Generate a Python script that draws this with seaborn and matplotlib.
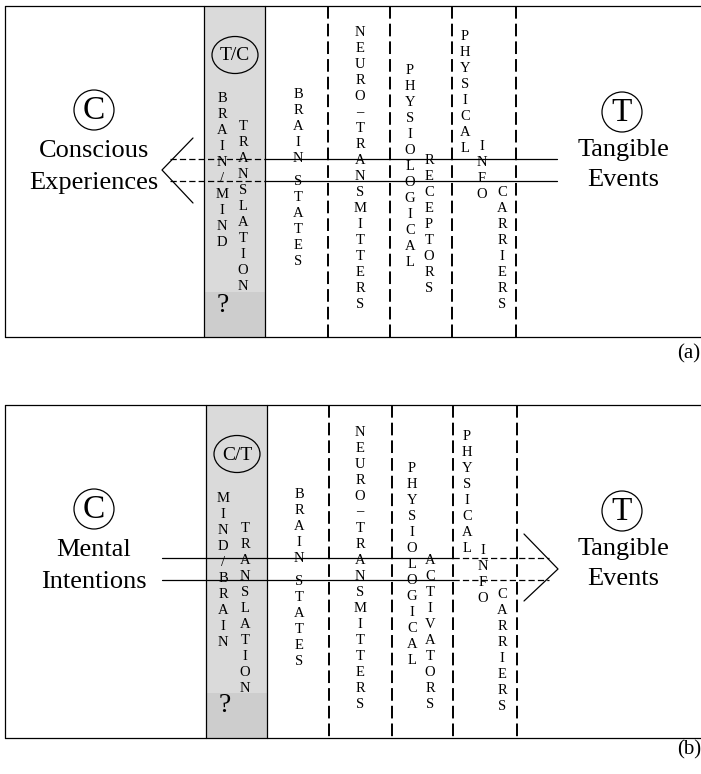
import matplotlib
matplotlib.use("Agg")
import matplotlib.pyplot as plt
import seaborn as sns
from matplotlib.patches import Circle, Ellipse, Rectangle

# panel texts
left_a = ["Conscious", "Experiences"]
left_b = ["Mental", "Intentions"]
right_lbl = ["Tangible", "Events"]
cols_a = [("BRAIN/MIND", "TRANSLATION"), ("BRAIN STATES",), ("NEURO–TRANSMITTERS",),
          ("PHYSIOLOGICAL", "RECEPTORS"), ("PHYSICAL", "INFO", "CARRIERS")]
cols_b = [("MIND/BRAIN", "TRANSLATION"), ("BRAIN STATES",), ("NEURO–TRANSMITTERS",),
          ("PHYSIOLOGICAL", "ACTIVATORS"), ("PHYSICAL", "INFO", "CARRIERS")]
badge_a = "T/C"
badge_b = "C/T"
panel_tags = ["(a)", "(b)"]

sns.set_theme(style="white")
plt.rcParams["font.family"] = ["Liberation Serif", "DejaVu Serif"]
plt.rcParams["text.color"] = "black"

fig = plt.figure(figsize=(7.01, 7.74), dpi=100)
ax = fig.add_axes([0, 0, 1, 1])
ax.set_xlim(0, 701)
ax.set_ylim(774, 0)
ax.axis("off")

LW = 0.9
DLW = 1.4


def column(x, y0, text, step=16.0, size=10.5):
    y = y0
    for ch in text:
        if ch == " ":
            y += step * 0.4
            continue
        ax.text(x, y, ch, ha="center", va="center", fontsize=size, color="black")
        y += step


def panel(top, bot, shade_x, dash_x, texts, left_text, badge, letter_pos, direction, tag, tag_y):
    k = "black"
    # outer frame (open on the right)
    ax.plot([5, 701], [top, top], color=k, lw=LW)
    ax.plot([5, 701], [bot, bot], color=k, lw=LW)
    ax.plot([5, 5], [top, bot], color=k, lw=LW)
    # shaded translation column
    ax.add_patch(Rectangle((shade_x[0], top), shade_x[1] - shade_x[0], bot - top,
                           facecolor="#dadada", edgecolor="none", zorder=0))
    ax.add_patch(Rectangle((shade_x[0], bot - 45), shade_x[1] - shade_x[0], 45,
                           facecolor="#cdcdcd", edgecolor="none", zorder=0))
    for sx in shade_x:
        ax.plot([sx, sx], [top, bot], color=k, lw=LW)
    for dx in dash_x:
        ax.plot([dx, dx], [top, bot], color=k, lw=DLW, dashes=(6.5, 2.6))

    # left/right labels
    ccy = top + 104
    ax.add_patch(Circle((94, ccy), 20, fill=False, lw=LW, edgecolor=k))
    ax.text(94, ccy + 1, "C", ha="center", va="center", fontsize=24)
    ax.text(94, ccy + 41, left_text[0], ha="center", va="center", fontsize=19)
    ax.text(94, ccy + 73, left_text[1], ha="center", va="center", fontsize=19)
    ax.add_patch(Circle((622, ccy + 2), 20, fill=False, lw=LW, edgecolor=k))
    ax.text(622, ccy + 3, "T", ha="center", va="center", fontsize=24)
    ax.text(623, ccy + 40, right_lbl[0], ha="center", va="center", fontsize=19)
    ax.text(623, ccy + 70, right_lbl[1], ha="center", va="center", fontsize=19)

    # badge in the translation column
    bx = (shade_x[0] + shade_x[1]) / 2 + 0.5
    ax.add_patch(Ellipse((bx, top + 49), 46, 37, fill=False, lw=LW, edgecolor=k))
    ax.text(bx, top + 50, badge, ha="center", va="center", fontsize=14)
    ax.text(shade_x[0] + 19, bot - 32, "?", ha="center", va="center", fontsize=20)

    # vertical letter columns
    i = 0
    for group in texts:
        for word in group:
            x, y0 = letter_pos[i]
            column(x, y0, word)
            i += 1

    # signal lines and chevron
    y1, y2 = top + 153, top + 175
    ym = (y1 + y2) / 2
    if direction == "left":
        for y in (y1, y2):
            ax.plot([170, shade_x[1]], [y, y], color=k, lw=LW, dashes=(5, 2.5))
            ax.plot([shade_x[1], 557], [y, y], color=k, lw=LW)
        ax.plot([193, 162, 193], [ym - 32, ym, ym + 33], color=k, lw=LW)
    else:
        for y in (y1, y2):
            ax.plot([162, dash_x[2]], [y, y], color=k, lw=LW)
            ax.plot([dash_x[2], 549], [y, y], color=k, lw=LW, dashes=(5, 2.5))
        ax.plot([524, 558, 524], [ym - 35, ym, ym + 32], color=k, lw=LW)

    ax.text(689, tag_y, tag, ha="center", va="center", fontsize=15)


pos_a = [(222, 98), (243, 127), (298, 95), (360, 33), (410, 70), (429, 160),
         (465, 37), (482, 147), (502, 193)]
pos_b = [(223, 498), (245, 528), (299, 495), (360, 432), (412, 468), (430, 560),
         (467, 437), (483, 550), (502, 595)]

panel(6, 337, (204, 265), (328, 390, 452, 516), cols_a, left_a, badge_a, pos_a,
      "left", panel_tags[0], 354)
panel(405, 738, (206, 267), (329, 392, 453, 517), cols_b, left_b, badge_b, pos_b,
      "right", panel_tags[1], 750)

fig.savefig("out.png", dpi=100)
